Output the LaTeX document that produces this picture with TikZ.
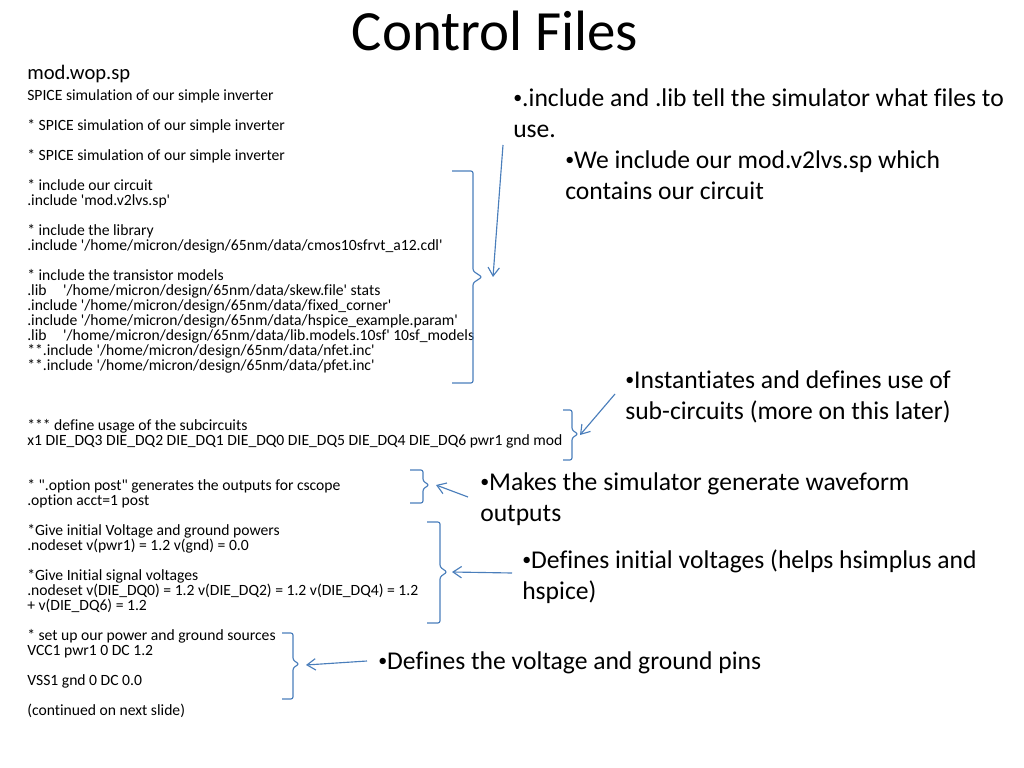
\documentclass[tikz,border=0pt]{standalone}
\usepackage{graphicx}
\usepackage{fontspec}
\setmainfont{Carlito}[Ligatures={TeX,NoCommon}]
\usetikzlibrary{arrows.meta}
\definecolor{linkblue}{HTML}{4A7EBB}
\newcommand{\sq}{\textquotesingle}
\newcommand{\dq}{\textquotedbl}
\newcommand{\dotmark}{\raisebox{0.13em}{\scalebox{0.7}{\textbullet}}}
\tikzset{
  code/.style={font=\fontsize{11}{10.55}\selectfont, align=left, anchor=north west, inner sep=0pt},
  note/.style={font=\fontsize{18}{21.8}\selectfont, align=left, anchor=north west, inner sep=0pt},
  brc/.style={draw=linkblue, line width=0.8pt, rounded corners=1.5pt},
  ptr/.style={draw=linkblue, line width=0.8pt, -{Straight Barb[length=6pt,width=8pt]}}
}
\begin{document}
\begin{tikzpicture}[x=0.703125pt,y=-0.703125pt]
      \useasboundingbox (0,0) rectangle (1024,768);
      \node[font=\fontsize{40}{48}\selectfont, anchor=base] (title) at (495,51) {Control Files};
      \node[font=\fontsize{14.5}{17}\selectfont, anchor=base west, inner sep=0pt] (fname) at (27,80) {mod.wop.sp};
      \node[code] (listing) at (27,89) {SPICE simulation of our simple inverter\\[10.55pt]
        {}* SPICE simulation of our simple inverter\\[10.55pt]
        {}* SPICE simulation of our simple inverter\\[10.55pt]
        {}* include our circuit\\
        .include \sq mod.v2lvs.sp\sq\\[10.55pt]
        {}* include the library\\
        .include \sq/home/micron/design/65nm/data/cmos10sfrvt\_a12.cdl\sq\\[10.55pt]
        {}* include the transistor models\\
        \makebox[25.3pt][l]{.lib}\sq/home/micron/design/65nm/data/skew.file\sq{} stats\\
        .include \sq/home/micron/design/65nm/data/fixed\_corner\sq\\
        .include \sq/home/micron/design/65nm/data/hspice\_example.param\sq\\
        \makebox[25.3pt][l]{.lib}\sq/home/micron/design/65nm/data/lib.models.10sf\sq{} 10sf\_models\\
        {}**.include \sq/home/micron/design/65nm/data/nfet.inc\sq\\
        {}**.include \sq/home/micron/design/65nm/data/pfet.inc\sq\\[31.65pt]
        {}*** define usage of the subcircuits\\
        x1 DIE\_DQ3 DIE\_DQ2 DIE\_DQ1 DIE\_DQ0 DIE\_DQ5 DIE\_DQ4 DIE\_DQ6 pwr1 gnd mod\\[21.1pt]
        {}* \dq.option post\dq{} generates the outputs for cscope\\
        .option acct=1 post\\[10.55pt]
        {}*Give initial Voltage and ground powers\\
        .nodeset v(pwr1) = 1.2 v(gnd) = 0.0\\[10.55pt]
        {}*Give Initial signal voltages\\
        .nodeset v(DIE\_DQ0) = 1.2 v(DIE\_DQ2) = 1.2 v(DIE\_DQ4) = 1.2\\
        + v(DIE\_DQ6) = 1.2\\[10.55pt]
        {}* set up our power and ground sources\\
        VCC1 pwr1 0 DC 1.2\\[10.55pt]
        VSS1 gnd 0 DC 0.0\\[10.55pt]
        (continued on next slide)};
      % notes on the right
      \node[note] (incnote) at (513,88.5) {\dotmark.include and .lib tell the simulator what files to\\use.};
      \node[note] (cktnote) at (565,150.5) {\dotmark We include our mod.v2lvs.sp which\\contains our circuit};
      \node[note] (subnote) at (625,370.5) {\dotmark Instantiates and defines use of\\sub-circuits (more on this later)};
      \node[note] (optnote) at (480,472.5) {\dotmark Makes the simulator generate waveform\\outputs};
      \node[note] (initnote) at (522,549.5) {\dotmark Defines initial voltages (helps hsimplus and\\hspice)};
      \node[note] (pinnote) at (378,651.5) {\dotmark Defines the voltage and ground pins};
      % braces
      \coordinate (inctip) at (482,277);
      \coordinate (subtip) at (578,434);
      \coordinate (opttip) at (429,485);
      \coordinate (inittip) at (447,572);
      \coordinate (pintip) at (299,664);
      \draw[brc] (452,171) -- (473,171) -- (473,271) -- (inctip) -- (473,283) -- (473,383) -- (452,383);
      \draw[brc] (563,410) -- (572,410) -- (572,430) -- (subtip) -- (572,438) -- (572,460) -- (563,460);
      \draw[brc] (410,470) -- (423,470) -- (423,481) -- (opttip) -- (423,489) -- (423,503) -- (410,503);
      \draw[brc] (427,522) -- (440,522) -- (440,567) -- (inittip) -- (440,577) -- (440,623) -- (427,623);
      \draw[brc] (282,633) -- (293,633) -- (293,660) -- (pintip) -- (293,668) -- (293,699) -- (282,699);
      % pointers
      \coordinate (incfrom) at (503,145);
      \coordinate (incto) at (493,277);
      \coordinate (subfrom) at (615,394);
      \coordinate (subto) at (580,435);
      \coordinate (optfrom) at (468,497);
      \coordinate (optto) at (436,485);
      \coordinate (initfrom) at (512,573);
      \coordinate (initto) at (452,572);
      \coordinate (pinfrom) at (367,661);
      \coordinate (pinto) at (306,665);
      \begin{scope}[ptr]
        \draw (incfrom) to (incto);
        \draw (subfrom) to (subto);
        \draw (optfrom) to (optto);
        \draw (initfrom) to (initto);
        \draw (pinfrom) to (pinto);
      \end{scope}
    \end{tikzpicture}
\end{document}
